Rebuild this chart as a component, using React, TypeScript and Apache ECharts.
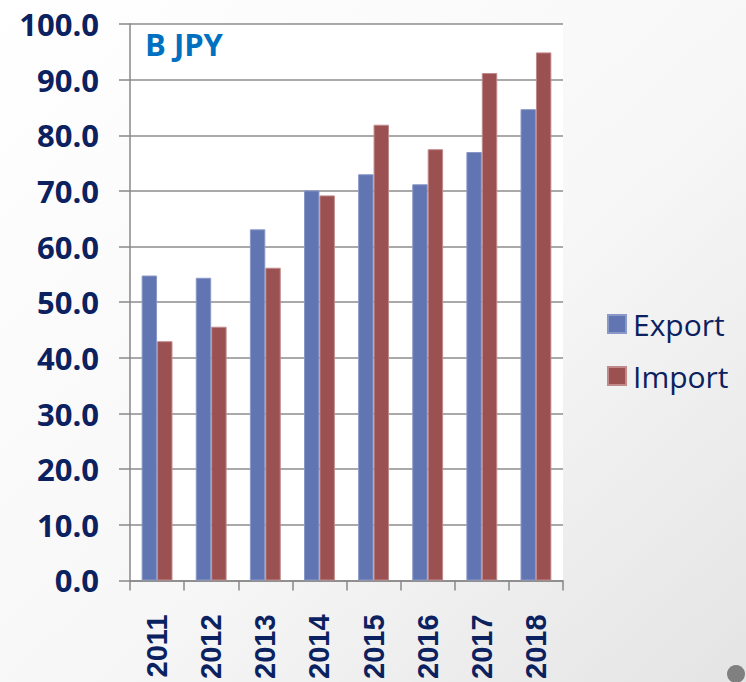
import React, { useEffect, useRef } from "react";
import * as echarts from "echarts";

const years = ["2011", "2012", "2013", "2014", "2015", "2016", "2017", "2018"];
const exportValues = [54.8, 54.4, 63.1, 70.1, 73.0, 71.2, 77.0, 84.7];
const importValues = [43.0, 45.6, 56.2, 69.2, 81.9, 77.5, 91.2, 94.9];
const yTicks = { min: 0, max: 100, interval: 10 };
const unitLabel = "B JPY";

const NAVY = "#0B2160";

export default function App() {
  const ref = useRef<HTMLDivElement>(null);
  useEffect(() => {
    if (!ref.current) return;
    const chart = echarts.init(ref.current, undefined, { renderer: "svg" });
    chart.setOption({
      animation: false,
      backgroundColor: {
        type: "linear",
        x: 0,
        y: 0,
        x2: 1,
        y2: 1,
        colorStops: [
          { offset: 0, color: "#ffffff" },
          { offset: 0.55, color: "#f7f7f7" },
          { offset: 1, color: "#e4e4e4" },
        ],
      },
      title: {
        text: unitLabel,
        left: 145,
        top: 28,
        padding: 0,
        textStyle: {
          color: "#0070C0",
          fontFamily: "Open Sans",
          fontWeight: "bold",
          fontSize: 31,
        },
      },
      legend: {
        orient: "vertical",
        left: 607,
        top: 309,
        padding: 0,
        itemWidth: 18,
        itemHeight: 18,
        itemGap: 22,
        icon: "rect",
        textStyle: {
          color: NAVY,
          fontFamily: "Open Sans",
          fontSize: 30,
          padding: [0, 0, 0, 2],
        },
        data: ["Export", "Import"],
      },
      grid: {
        left: 130,
        right: 183,
        top: 24,
        bottom: 101,
        show: true,
        backgroundColor: "#ffffff",
        borderWidth: 0,
      },
      xAxis: {
        type: "category",
        data: years,
        boundaryGap: true,
        axisLine: { show: true, lineStyle: { color: "#888888", width: 1.5 } },
        axisTick: { show: true, length: 10, lineStyle: { color: "#888888", width: 1.5 } },
        axisLabel: {
          rotate: 90,
          margin: 34,
          color: NAVY,
          fontFamily: "Liberation Sans",
          fontWeight: "bold",
          fontSize: 29,
          interval: 0,
        },
        splitLine: { show: false },
      },
      yAxis: {
        type: "value",
        min: yTicks.min,
        max: yTicks.max,
        interval: yTicks.interval,
        axisLine: { show: true, lineStyle: { color: "#888888", width: 1.5 } },
        axisTick: { show: true, length: 11, inside: false, lineStyle: { color: "#888888", width: 1.5 } },
        axisLabel: {
          margin: 31,
          color: NAVY,
          fontFamily: "Open Sans",
          fontWeight: "bold",
          fontSize: 31,
          formatter: (v: number) => v.toFixed(1),
        },
        splitLine: { show: true, lineStyle: { color: "#8c8c8c", width: 1.5 } },
      },
      series: [
        {
          name: "Export",
          type: "bar",
          data: exportValues,
          barGap: "0%",
          barCategoryGap: "43%",
          itemStyle: { color: "#6175B3", borderColor: "#8a98c8", borderWidth: 1 },
        },
        {
          name: "Import",
          type: "bar",
          data: importValues,
          barGap: "0%",
          barCategoryGap: "43%",
          itemStyle: { color: "#9B5052", borderColor: "#c08a8a", borderWidth: 1 },
        },
      ],
      graphic: [
        {
          type: "circle",
          shape: { cx: 736, cy: 674, r: 9 },
          style: { fill: "#808080" },
        },
      ],
    });
    return () => chart.dispose();
  }, []);
  return <div ref={ref} style={{ width: 746, height: 682, position: "absolute", left: 0, top: 0 }} />;
}
